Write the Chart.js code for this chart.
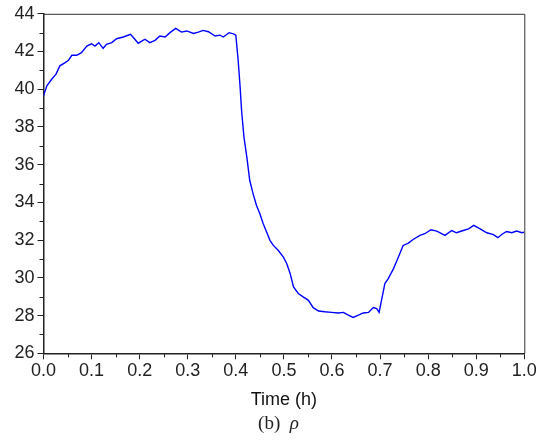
<!DOCTYPE html>
<html>
<head>
<meta charset="utf-8">
<script src="https://cdn.jsdelivr.net/npm/chart.js@4"></script>
<style>
  html, body { margin: 0; padding: 0; background: #fff; }
  #wrap { position: relative; width: 551px; height: 444px; }
  #rhoChart { display: block; }
  #caption {
    position: absolute; left: 0; width: 557px; top: 412px;
    text-align: center; font-family: "Liberation Serif", "DejaVu Serif", serif;
    font-size: 19px; color: #222;
  }
</style>
</head>
<body>
<div id="wrap">
  <canvas id="rhoChart" width="551" height="444"></canvas>
  <div id="caption">(b)&nbsp; <i>ρ</i></div>
</div>
<script>
// 时间轴 (h) 与 ρ 值
const timeH = [
  0, 0.007, 0.017, 0.026, 0.034, 0.045, 0.052, 0.059, 0.069, 0.079,
  0.09, 0.1, 0.107, 0.115, 0.124, 0.131, 0.142, 0.152, 0.166, 0.181,
  0.19, 0.197, 0.211, 0.221, 0.232, 0.242, 0.253, 0.263, 0.275, 0.287,
  0.298, 0.312, 0.322, 0.332, 0.343, 0.357, 0.367, 0.374, 0.386, 0.395,
  0.4, 0.405, 0.409, 0.412, 0.417, 0.423, 0.429, 0.436, 0.443, 0.45,
  0.457, 0.464, 0.471, 0.478, 0.488, 0.499, 0.506, 0.513, 0.52, 0.53,
  0.54, 0.551, 0.561, 0.572, 0.585, 0.599, 0.613, 0.624, 0.634, 0.644,
  0.655, 0.665, 0.676, 0.686, 0.693, 0.698, 0.703, 0.71, 0.717, 0.728,
  0.736, 0.748, 0.759, 0.768, 0.783, 0.793, 0.806, 0.818, 0.835, 0.849,
  0.859, 0.873, 0.884, 0.895, 0.908, 0.922, 0.936, 0.945, 0.953, 0.963,
  0.974, 0.984, 0.995, 1.0
];
const rho = [
  39.65, 40.18, 40.53, 40.8, 41.24, 41.41, 41.54, 41.8, 41.8, 41.94,
  42.29, 42.41, 42.29, 42.47, 42.17, 42.38, 42.47, 42.68, 42.77, 42.91,
  42.65, 42.44, 42.65, 42.47, 42.59, 42.82, 42.77, 43.0, 43.23, 43.03,
  43.09, 42.96, 43.03, 43.12, 43.05, 42.82, 42.87, 42.77, 43.0, 42.94,
  42.87, 41.5, 40.09, 38.86, 37.45, 36.39, 35.16, 34.45, 33.84, 33.4,
  32.87, 32.43, 31.99, 31.72, 31.46, 31.1, 30.75, 30.23, 29.52, 29.17,
  28.99, 28.81, 28.42, 28.24, 28.2, 28.17, 28.14, 28.17, 28.02, 27.9,
  28.02, 28.14, 28.17, 28.43, 28.37, 28.17, 28.81, 29.7, 29.96, 30.49,
  30.97, 31.72, 31.84, 32.02, 32.25, 32.34, 32.55, 32.48, 32.25, 32.51,
  32.39, 32.51, 32.6, 32.78, 32.6, 32.39, 32.29, 32.13, 32.3, 32.46,
  32.39, 32.48, 32.39, 32.42
];

// 坐标轴范围与刻度
const xMin = 0, xMax = 1.0, xStep = 0.1;
const yMin = 26, yMax = 44, yStep = 2;
const xMinorTicks = [0.05, 0.15, 0.25, 0.35, 0.45, 0.55, 0.65, 0.75, 0.85, 0.95];
const yMinorTicks = [27, 29, 31, 33, 35, 37, 39, 41, 43];

// 外框 + 次刻度
const framePlugin = {
  id: 'frame',
  afterDraw(chart) {
    const ctx = chart.ctx;
    const a = chart.chartArea;
    const xs = chart.scales.x, ys = chart.scales.y;
    ctx.save();
    ctx.strokeStyle = '#333';
    ctx.lineWidth = 1;
    ctx.beginPath();
    ctx.moveTo(a.left, a.top + 0.5);
    ctx.lineTo(a.right + 0.5, a.top + 0.5);
    ctx.lineTo(a.right + 0.5, a.bottom);
    ctx.stroke();

    ctx.strokeStyle = '#222';
    ctx.beginPath();
    xMinorTicks.forEach(v => {
      const px = Math.round(xs.getPixelForValue(v)) + 0.5;
      ctx.moveTo(px, a.bottom);
      ctx.lineTo(px, a.bottom + 4);
    });
    yMinorTicks.forEach(v => {
      const py = Math.round(ys.getPixelForValue(v)) + 0.5;
      ctx.moveTo(a.left, py);
      ctx.lineTo(a.left - 4, py);
    });
    ctx.stroke();
    ctx.restore();
  }
};

const tickFont = { family: '"Liberation Sans", Arial, sans-serif', size: 18 };

document.addEventListener('DOMContentLoaded', function() {
  const ctx = document.getElementById('rhoChart');
  new Chart(ctx, {
    type: 'scatter',
    data: {
      datasets: [{
        data: timeH.map((t, i) => ({ x: t, y: rho[i] })),
        showLine: true,
        borderColor: '#0000ff',
        borderWidth: 1.4,
        pointRadius: 0,
        tension: 0,
        fill: false
      }]
    },
    options: {
      responsive: false,
      animation: false,
      devicePixelRatio: 1,
      layout: { padding: { top: 12.7, right: 26.7, left: 0, bottom: 0 } },
      plugins: {
        legend: { display: false },
        tooltip: { enabled: false }
      },
      scales: {
        x: {
          type: 'linear',
          min: xMin,
          max: xMax,
          afterFit(scale) { scale.height = 90.7; },
          border: { display: true, color: '#222', width: 1.5 },
          grid: { drawOnChartArea: false, tickLength: 6, tickColor: '#222', tickWidth: 1 },
          ticks: {
            stepSize: xStep,
            padding: 1,
            color: '#222',
            font: tickFont,
            maxRotation: 0,
            callback: v => Number(v).toFixed(1)
          },
          title: {
            display: true,
            text: 'Time (h)',
            color: '#111',
            font: tickFont,
            padding: { top: 0, bottom: 33 }
          }
        },
        y: {
          type: 'linear',
          min: yMin,
          max: yMax,
          afterFit(scale) { scale.width = 43.5; },
          border: { display: true, color: '#222', width: 1.5 },
          grid: { drawOnChartArea: false, tickLength: 6, tickColor: '#222', tickWidth: 1 },
          ticks: {
            stepSize: yStep,
            padding: 3,
            color: '#222',
            font: tickFont
          }
        }
      }
    },
    plugins: [framePlugin]
  });
});
</script>
</body>
</html>
